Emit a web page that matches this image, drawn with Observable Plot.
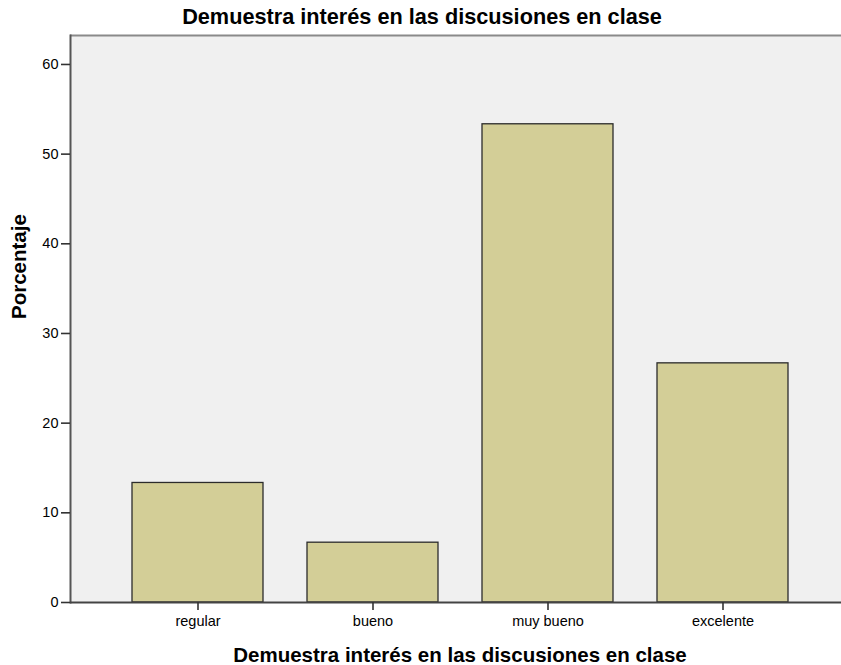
<!DOCTYPE html>
<html>
<head>
<meta charset="utf-8">
<script src="https://cdn.jsdelivr.net/npm/d3@7"></script>
<script src="https://cdn.jsdelivr.net/npm/@observablehq/plot@0.6"></script>
<style>
  html, body { margin: 0; padding: 0; background: #fff; }
  #chart svg { display: block; }
</style>
</head>
<body>
<div id="chart"></div>
<script>
const categories = ["regular", "bueno", "muy bueno", "excelente"];
const percentages = [13.33, 6.67, 53.33, 26.67];
const yTicks = [0, 10, 20, 30, 40, 50, 60];
const titleText = "Demuestra interés en las discusiones en clase";
const xTitle = "Demuestra interés en las discusiones en clase";
const yTitle = "Porcentaje";

const data = categories.map((c, i) => ({category: c, value: percentages[i]}));
const yMax = 63.23;
const font = "'Liberation Sans', Arial, sans-serif";

const chart = Plot.plot({
  width: 841,
  height: 665,
  marginTop: 35,
  marginBottom: 63,
  marginLeft: 70,
  marginRight: 0,
  style: {fontFamily: font, fontSize: "14.5px", color: "#000", background: "#fff"},
  x: {domain: categories, range: [109, 811], paddingInner: 0.25, paddingOuter: 0.125, label: null},
  y: {domain: [0, yMax], label: null},
  marks: [
    Plot.frame({fill: "#f0f0f0", stroke: null}),
    Plot.barY(data, {x: "category", y: "value", fill: "#d3ce97", stroke: "#2b2b2b", strokeWidth: 1.3}),
    Plot.ruleY([yMax], {stroke: "#8a8a8a", strokeWidth: 2}),
    Plot.frame({anchor: "left", stroke: "#555", strokeWidth: 2}),
    Plot.ruleY([0], {stroke: "#444", strokeWidth: 2}),
    Plot.axisY({ticks: yTicks, tickSize: 9, tickPadding: 3, stroke: "#333", strokeWidth: 1.6, fontSize: "14.5px", label: null}),
    Plot.axisX({tickSize: 8, tickPadding: 5, stroke: "#333", strokeWidth: 1.6, fontSize: "14.5px", label: null}),
    Plot.text([titleText], {frameAnchor: "top", dx: -34, dy: -18, lineAnchor: "middle", fontSize: 21.7, fontWeight: "bold", fill: "#000"}),
    Plot.text([xTitle], {frameAnchor: "bottom", dx: 4, dy: 53, lineAnchor: "middle", fontSize: 20.5, fontWeight: "bold", fill: "#000"}),
    Plot.text([yTitle], {frameAnchor: "left", dx: -51, rotate: -90, lineAnchor: "middle", fontSize: 20.5, fontWeight: "bold", fill: "#000"})
  ]
});
document.getElementById("chart").appendChild(chart);
</script>
</body>
</html>
